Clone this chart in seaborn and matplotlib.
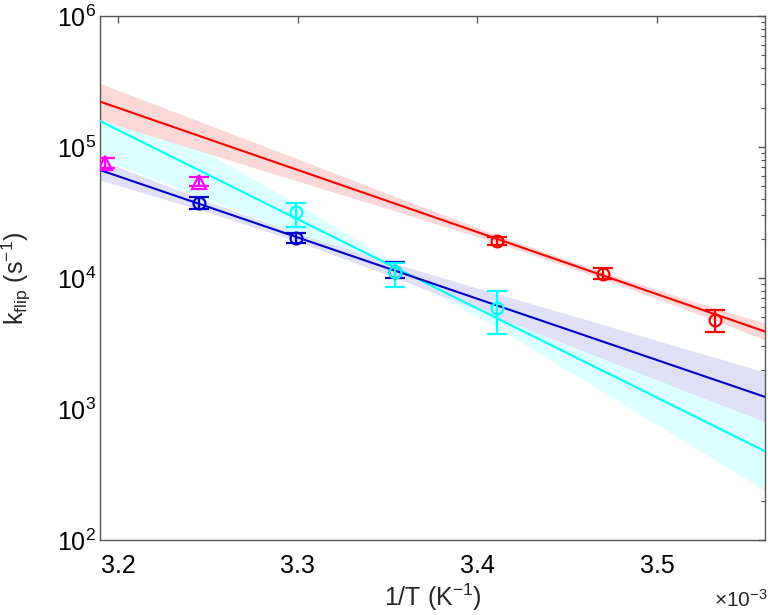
import matplotlib
matplotlib.use("Agg")
import matplotlib.pyplot as plt
import matplotlib.ticker as mticker
import numpy as np
import seaborn as sns

# 1/T in units of 1e-3 K^-1, k_flip in s^-1
inv_t_blue = [3.245, 3.299, 3.354]
k_blue = [37600, 20300, 11100]
k_blue_lo = [33400, 18600, 9950]
k_blue_hi = [41800, 22000, 13300]

inv_t_magenta = [3.193, 3.245]
k_magenta = [76000, 54000]
k_magenta_lo = [69000, 50500]
k_magenta_hi = [83000, 58500]

inv_t_cyan = [3.299, 3.354, 3.411]
k_cyan = [32000, 11200, 5870]
k_cyan_lo = [24400, 8500, 3720]
k_cyan_hi = [37600, 13100, 8000]

inv_t_red = [3.411, 3.470, 3.532]
k_red = [19300, 10740, 4800]
k_red_lo = [17870, 9770, 3850]
k_red_hi = [20650, 11850, 5650]

# Arrhenius fit lines, value at both ends of the x range
fit_x = [3.19, 3.56]
fit_red = [222000, 3900]
fit_blue = [66700, 1236]
fit_cyan = [157800, 475]

# confidence bands of the fits
band_x = [3.19, 3.25, 3.30, 3.355, 3.41, 3.47, 3.53, 3.56]
red_band_hi = [306000, 148300, 81100, 41500, 21500, 11040, 6000, 4530]
red_band_lo = [160700, 89300, 54800, 32200, 18700, 9840, 4880, 3360]
blue_band_hi = [79400, 38400, 21800, 12760, 7640, 4400, 2520, 1910]
blue_band_lo = [56000, 31800, 19000, 9950, 5070, 2415, 1150, 800]
cyan_band_hi = [260000, 90000, 36500, 12850, 5870, 2820, 1360, 950]
cyan_band_lo = [82000, 39700, 21600, 10940, 4260, 1350, 425, 238]

RED = "#ff0000"
BLUE = "#0000cd"
CYAN = "#00ffff"
MAGENTA = "#ff00ff"


def draw_points(ax, x, y, lo, hi, color, marker, size=8.5):
    y = np.asarray(y, dtype=float)
    yerr = [y - np.asarray(lo), np.asarray(hi) - y]
    ax.errorbar(x, y, yerr=yerr, fmt=marker, color=color, mfc="none", mec=color,
                ms=size, mew=1.6, elinewidth=1.6, capsize=7, capthick=1.6, zorder=4)


sns.set_theme(style="white")
plt.rcParams["font.family"] = ["Liberation Sans", "DejaVu Sans"]
plt.rcParams["mathtext.fontset"] = "custom"
plt.rcParams["mathtext.rm"] = "Liberation Sans"
plt.rcParams["mathtext.it"] = "Liberation Sans:italic"
plt.rcParams["mathtext.bf"] = "Liberation Sans:bold"

fig = plt.figure(figsize=(7.68, 6.15), dpi=100)
ax = fig.add_axes([0.1302, 0.122, 0.866, 0.852])
ax.set_yscale("log")

# bands (opaque light fills, red on top)
ax.fill_between(band_x, cyan_band_lo, cyan_band_hi, color="#dcffff", lw=0, zorder=1)
ax.fill_between(band_x, blue_band_lo, blue_band_hi, color="#dfdff5", lw=0, zorder=1)
ax.fill_between(band_x, red_band_lo, red_band_hi, color="#fbd8d8", lw=0, zorder=1)

for ys, col in [(fit_cyan, CYAN), (fit_blue, BLUE), (fit_red, RED)]:
    sns.lineplot(x=fit_x, y=ys, color=col, linewidth=1.5, ax=ax, zorder=3)

draw_points(ax, inv_t_blue, k_blue, k_blue_lo, k_blue_hi, BLUE, "o")
draw_points(ax, inv_t_magenta, k_magenta, k_magenta_lo, k_magenta_hi, MAGENTA, "^", size=10)
draw_points(ax, inv_t_cyan, k_cyan, k_cyan_lo, k_cyan_hi, CYAN, "o")
draw_points(ax, inv_t_red, k_red, k_red_lo, k_red_hi, RED, "o")

ax.set_xlim(3.19, 3.56)
ax.set_ylim(1e2, 1e6)
ax.set_xticks([3.2, 3.3, 3.4, 3.5])
ax.xaxis.set_major_formatter(mticker.FormatStrFormatter("%.1f"))
ax.xaxis.set_minor_locator(mticker.NullLocator())
ax.yaxis.set_major_locator(mticker.LogLocator(base=10, numticks=10))
ax.yaxis.set_minor_locator(mticker.LogLocator(base=10, subs=np.arange(2, 10), numticks=20))
ax.yaxis.set_major_formatter(mticker.LogFormatterMathtext())

ax.tick_params(which="both", direction="in", top=True, right=True,
               colors="#555555", labelcolor="black", labelsize=18)
ax.tick_params(which="major", length=5, width=1)
ax.tick_params(axis="x", which="major", pad=10)
ax.tick_params(axis="y", which="major", pad=3)
ax.tick_params(which="minor", length=3, width=0.8)
for sp in ax.spines.values():
    sp.set_color("#555555")
    sp.set_linewidth(1)

ax.set_xlabel(r"1/T (K$^{-1}$)", fontsize=18)
ax.set_ylabel(r"k$_{\mathrm{flip}}$ (s$^{-1}$)", fontsize=18)
ax.xaxis.set_label_coords(0.5, -0.08)
ax.yaxis.set_label_coords(-0.1, 0.5)
fig.text(0.999, 1 - 600 / 615, r"$\times10^{-3}$", ha="right", va="center", fontsize=15)

fig.savefig("out.png", dpi=100)
